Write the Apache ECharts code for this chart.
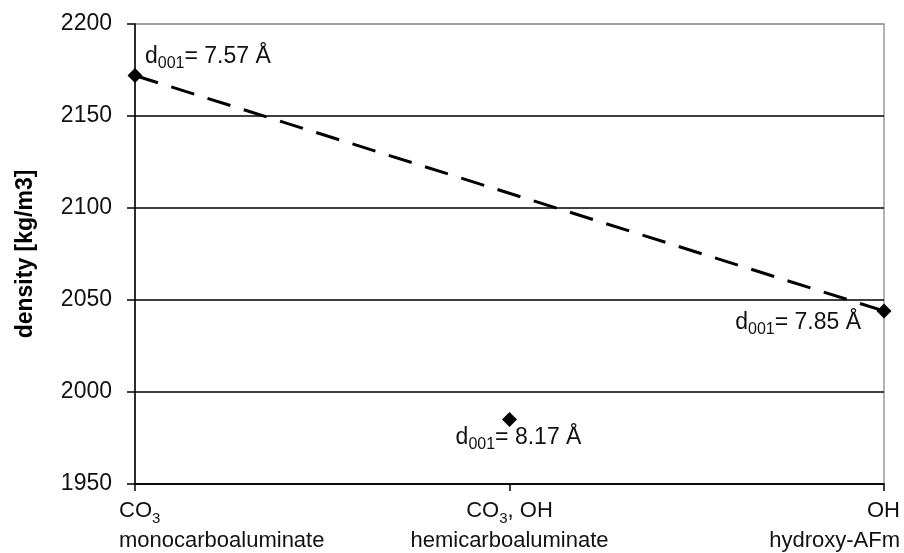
<!DOCTYPE html>
<html><head><meta charset="utf-8">
<script src="https://cdn.jsdelivr.net/npm/echarts@6/dist/echarts.min.js"></script>
<style>html,body{margin:0;padding:0;background:#fff}#c{width:904px;height:553px}</style>
</head><body><div id="c"></div>
<script>
// ---- data ----
const categories = ['monocarboaluminate', 'hemicarboaluminate', 'hydroxy-AFm'];
const anionMain = ['CO', 'CO', 'OH'];
const anionSub = ['3', '3', ''];
const anionTail = ['', ', OH', ''];
const densityTrend = [2172, null, 2044];
const densityPoints = [2172, 1985, 2044];
const d001Values = ['7.57', '8.17', '7.85'];
const yMin = 1950, yMax = 2200, yStep = 50;
const yAxisTitle = 'density [kg/m3]';

// ---- chart ----
const FONT = '"Liberation Sans", Arial, sans-serif';
const chart = echarts.init(document.getElementById('c'), null, {renderer: 'canvas'});

const labelPlace = [
  {align: 'left', verticalAlign: 'middle', offset: [10, -19]},
  {align: 'center', verticalAlign: 'middle', offset: [9, 18]},
  {align: 'right', verticalAlign: 'middle', offset: [-23, 12]}
];

const richLbl = {
  n: {fontSize: 22, fontFamily: FONT, color: '#111', lineHeight: 30},
  s: {fontSize: 15, fontFamily: FONT, color: '#111', lineHeight: 18, verticalAlign: 'bottom'}
};
const richPt = {
  n: {fontSize: 23, fontFamily: FONT, color: '#111', lineHeight: 30},
  s: {fontSize: 16, fontFamily: FONT, color: '#111', lineHeight: 18, verticalAlign: 'bottom'}
};

chart.setOption({
  animation: false,
  backgroundColor: '#fff',
  grid: {left: 135, right: 20, top: 24, bottom: 69, show: true, borderColor: '#999', borderWidth: 1.5},
  xAxis: {
    type: 'category',
    data: categories,
    boundaryGap: false,
    axisLine: {lineStyle: {color: '#000', width: 1.5}},
    axisTick: {show: true, length: 7, lineStyle: {color: '#000', width: 1.5}},
    axisLabel: {
      interval: 0,
      margin: 12,
      padding: [0, -16, 0, -16],
      alignMinLabel: 'left',
      alignMaxLabel: 'right',
      formatter: function (v, i) {
        let first = '{n|' + anionMain[i] + '}';
        if (anionSub[i]) first += '{s|' + anionSub[i] + '}';
        if (anionTail[i]) first += '{n|' + anionTail[i] + '}';
        return first + '\n{n|' + v + '}';
      },
      rich: richLbl
    },
    splitLine: {show: false}
  },
  yAxis: {
    type: 'value',
    min: yMin, max: yMax, interval: yStep,
    name: yAxisTitle,
    nameLocation: 'middle',
    nameGap: 98,
    nameTextStyle: {fontSize: 23, fontWeight: 'bold', fontFamily: FONT, color: '#000'},
    axisLine: {show: true, lineStyle: {color: '#000', width: 1.5}},
    axisTick: {show: true, length: 8, lineStyle: {color: '#000', width: 1.5}},
    axisLabel: {fontSize: 23, fontFamily: FONT, color: '#111', margin: 23,
      formatter: function (v) { return String(v); }},
    splitLine: {show: true, lineStyle: {color: ['#000', '#000', '#000', '#000', '#000', '#999'], width: 1.5}}
  },
  series: [
    {
      type: 'line',
      data: densityTrend,
      connectNulls: true,
      showSymbol: false,
      symbol: 'none',
      lineStyle: {color: '#000', width: 3, type: [24, 14]},
      z: 2
    },
    {
      type: 'scatter',
      symbol: 'diamond',
      symbolSize: 15,
      itemStyle: {color: '#000', opacity: 1},
      z: 3,
      data: densityPoints.map(function (v, i) {
        return {
          value: v,
          label: Object.assign({
            show: true,
            position: 'inside',
            formatter: '{n|d}{s|001}{n|= ' + d001Values[i] + ' \u00C5}',
            rich: richPt
          }, labelPlace[i])
        };
      })
    }
  ]
});
</script>
</body></html>
